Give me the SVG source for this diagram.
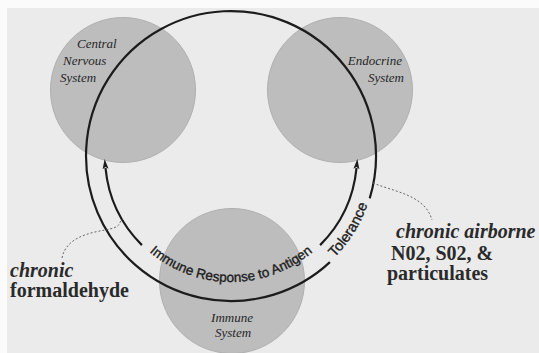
<svg xmlns="http://www.w3.org/2000/svg" width="539" height="353" viewBox="0 0 539 353">
<style>
.sys{fill:#bdbdbd;stroke:#b0b0b0;stroke-width:1}
.lbl{font-family:"Liberation Serif","Times New Roman",serif;font-style:italic;font-size:13px;fill:#262626}
.line{fill:none;stroke:#1c1c1c;stroke-width:2.2}
.dot{fill:none;stroke:#666;stroke-width:1;stroke-dasharray:2,2}
.path-t{font-family:"Liberation Sans",Arial,sans-serif;fill:#1c1c1c;stroke:#1c1c1c;stroke-width:0.35}
.ser{font-family:"Liberation Serif","Times New Roman",serif;font-size:20px;font-weight:bold;fill:#2a2a2a}
.it{font-style:italic}
</style>
<defs>
<marker id="arr" markerUnits="userSpaceOnUse" markerWidth="12" markerHeight="10" refX="1" refY="4" orient="auto">
<path d="M0,1 L10,4 L0,7 L2,4 z" fill="#1c1c1c"/>
</marker>
<path id="immunePath" d="M 141.9,245.1 A 126 126 0 0 0 320.1,245.1"/>
<path id="tolPath" d="M 329.9,262.1 A 145 145 0 0 0 369.7,198.4"/>
</defs>
<rect x="0" y="0" width="539" height="353" fill="#fbfbfb"/>
<rect x="7" y="8" width="532" height="345" fill="#ebebeb"/>
<g id="cns">
<circle class="sys" cx="123" cy="90" r="72.5"/>
<text class="lbl" x="77" y="48">Central</text>
<text class="lbl" x="63" y="65">Nervous</text>
<text class="lbl" x="60" y="82">System</text>
</g>
<g id="endocrine">
<circle class="sys" cx="340" cy="90" r="72.5"/>
<text class="lbl" x="402" y="65" text-anchor="end">Endocrine</text>
<text class="lbl" x="404" y="82" text-anchor="end">System</text>
</g>
<g id="immune">
<circle class="sys" cx="232" cy="281" r="72.5"/>
<text class="lbl" x="232" y="322" text-anchor="middle">Immune</text>
<text class="lbl" x="233" y="337" text-anchor="middle">System</text>
</g>
<g id="connectors">
<path class="line" d="M 369.7,198.4 A 145 145 0 1 0 329.9,262.1"/>
<path class="line" d="M 141.9,245.1 A 126 126 0 0 1 105.5,168" marker-end="url(#arr)"/>
<path class="line" d="M 320.1,245.1 A 126 126 0 0 0 356.5,168" marker-end="url(#arr)"/>
<text class="path-t" font-size="13.5"><textPath href="#immunePath" startOffset="50%" text-anchor="middle">Immune Response to Antigen</textPath></text>
<text class="path-t" font-size="14.5"><textPath href="#tolPath" startOffset="50%" text-anchor="middle">Tolerance</textPath></text>
<path class="dot" d="M 62,258 C 66,238 88,233 105,230 S 118,224 122,219"/>
<path class="dot" d="M 373,183 C 395,192 425,195 432,220"/>
</g>
<g id="formaldehyde">
<text class="ser it" x="10" y="277">chronic</text>
<text class="ser" x="10" y="297">formaldehyde</text>
</g>
<g id="airborne">
<text class="ser it" x="396" y="238">chronic airborne</text>
<text class="ser" x="391" y="260">N02, S02, &amp;</text>
<text class="ser" x="387" y="280">particulates</text>
</g>
</svg>
